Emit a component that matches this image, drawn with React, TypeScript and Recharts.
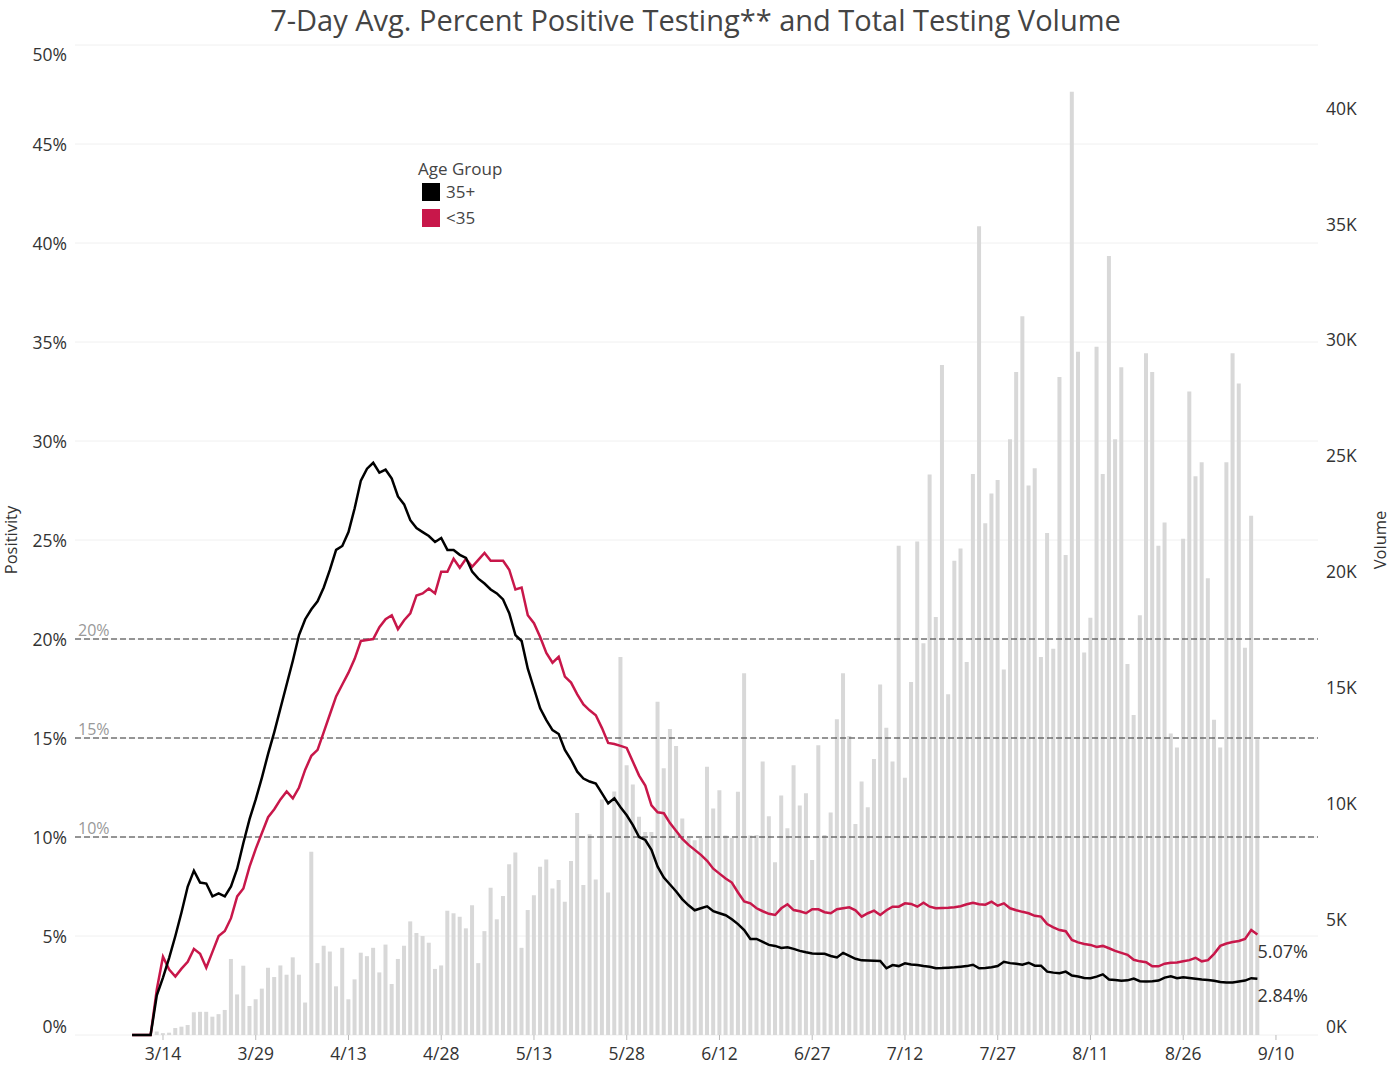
import React from 'react';
import {
  ComposedChart,
  Bar,
  Line,
  XAxis,
  YAxis,
  CartesianGrid,
  ReferenceLine,
  Legend,
  LabelList,
} from 'recharts';

// day 0 = 3/9
const START_MONTH = 3;
const START_DAY = 9;

// daily testing volume, thousands
const volumeK = [
  0, 0, 0, 0, 0.15, 0.08, 0.1, 0.3, 0.36, 0.43,
  0.98, 1.0, 1.0, 0.79, 0.9, 1.08, 3.28, 1.75, 2.99, 1.25,
  1.54, 2.0, 2.9, 2.5, 3.0, 2.6, 3.35, 2.6, 1.4, 7.9,
  3.1, 3.85, 3.6, 2.1, 3.76, 1.54, 2.4, 3.55, 3.4, 3.76,
  2.7, 3.9, 2.2, 3.28, 3.85, 4.9, 4.4, 4.27, 3.98, 2.85,
  3.0, 5.36, 5.25, 5.1, 4.6, 5.6, 3.1, 4.48, 6.35, 4.99,
  6.0, 7.36, 7.87, 3.76, 5.39, 6.03, 7.26, 7.57, 6.32, 6.68,
  5.75, 7.51, 9.58, 6.47, 8.66, 6.71, 10.16, 6.15, 10.5, 16.3,
  11.64, 10.8, 9.41, 8.76, 8.76, 14.37, 11.5, 13.2, 12.46, 9.34,
  8.5, 8.4, 8.5, 11.57, 9.77, 10.56, 8.6, 8.5, 10.49, 15.6,
  8.6, 8.63, 11.8, 9.44, 7.45, 10.33, 8.92, 11.64, 9.9, 10.43,
  7.55, 12.5, 8.63, 9.6, 13.62, 15.6, 12.9, 9.1, 10.93, 9.82,
  11.9, 15.12, 13.25, 11.8, 21.1, 11.1, 15.23, 21.28, 16.9, 24.17,
  18.03, 28.9, 14.7, 20.45, 20.98, 16.09, 24.2, 34.88, 22.07, 23.36,
  23.94, 15.76, 25.7, 28.6, 31.0, 23.7, 24.45, 16.3, 21.65, 16.66,
  28.38, 20.7, 40.68, 29.47, 16.5, 18.0, 29.68, 24.2, 33.6, 25.7,
  28.8, 16.0, 13.8, 18.1, 29.4, 28.6, 21.1, 22.1, 13.0, 12.4,
  21.4, 27.75, 24.1, 24.7, 19.7, 13.6, 12.4, 24.7, 29.4, 28.1,
  16.7, 22.4, 12.76,
];

// 7-day avg percent positive, age 35+
const pctOlder = [
  0, 0, 0, 0, 2.0, 2.9, 3.9, 5.0, 6.2, 7.5,
  8.3, 7.7, 7.65, 7.0, 7.15, 7.0, 7.5, 8.4, 9.7, 10.9,
  11.9, 13.0, 14.2, 15.3, 16.5, 17.7, 18.9, 20.2, 21.0, 21.5,
  21.9, 22.6, 23.5, 24.5, 24.7, 25.4, 26.6, 28.0, 28.6, 28.9,
  28.4, 28.55, 28.1, 27.2, 26.8, 26.0, 25.6, 25.4, 25.2, 24.9,
  25.1, 24.5, 24.5, 24.25, 24.1, 23.4, 23.05, 22.8, 22.5, 22.3,
  22.0, 21.3, 20.2, 19.9, 18.5, 17.5, 16.5, 15.9, 15.4, 15.2,
  14.4, 13.9, 13.3, 12.95, 12.8, 12.7, 12.2, 11.7, 11.95, 11.5,
  11.1, 10.6, 10.0, 9.85, 9.35, 8.5, 7.95, 7.6, 7.25, 6.85,
  6.55, 6.3, 6.4, 6.5, 6.25, 6.15, 6.05, 5.85, 5.6, 5.3,
  4.85, 4.85, 4.7, 4.55, 4.5, 4.4, 4.43, 4.35, 4.25, 4.18,
  4.12, 4.1, 4.1, 3.99, 3.92, 4.15, 4.0, 3.85, 3.77, 3.76,
  3.75, 3.74, 3.37, 3.53, 3.48, 3.62, 3.56, 3.53, 3.48, 3.45,
  3.37, 3.38, 3.4, 3.42, 3.45, 3.48, 3.55, 3.37, 3.38, 3.42,
  3.48, 3.7, 3.63, 3.6, 3.55, 3.65, 3.5, 3.5, 3.2, 3.15,
  3.12, 3.2, 3.0, 2.95, 2.88, 2.87, 2.95, 3.06, 2.8, 2.78,
  2.74, 2.76, 2.85, 2.72, 2.7, 2.72, 2.75, 2.9, 2.96, 2.87,
  2.92, 2.88, 2.84, 2.8, 2.78, 2.74, 2.68, 2.65, 2.65, 2.7,
  2.75, 2.87, 2.84,
];

// 7-day avg percent positive, age <35
const pctYounger = [
  0, 0, 0, 0, 2.3, 3.95, 3.3, 2.95, 3.35, 3.7,
  4.35, 4.1, 3.4, 4.2, 5.0, 5.25, 5.9, 7.0, 7.4, 8.5,
  9.4, 10.2, 11.0, 11.4, 11.9, 12.3, 11.95, 12.5, 13.4, 14.1,
  14.4, 15.3, 16.2, 17.1, 17.7, 18.3, 19.0, 19.9, 19.95, 20.0,
  20.6, 21.0, 21.2, 20.5, 20.95, 21.3, 22.2, 22.3, 22.55, 22.3,
  23.4, 23.4, 24.05, 23.6, 24.05, 23.65, 24.0, 24.35, 23.95, 23.95,
  23.95, 23.5, 22.5, 22.6, 21.2, 20.8, 20.1, 19.3, 18.8, 19.1,
  18.1, 17.8, 17.2, 16.7, 16.4, 16.15, 15.5, 14.75, 14.7, 14.6,
  14.5, 13.8, 13.1, 12.6, 11.6, 11.25, 11.2, 10.7, 10.3, 9.9,
  9.6, 9.35, 9.1, 8.8, 8.4, 8.15, 7.9, 7.7, 7.2, 6.75,
  6.65, 6.4, 6.25, 6.12, 6.06, 6.4, 6.6, 6.31, 6.25, 6.15,
  6.35, 6.35, 6.2, 6.15, 6.35, 6.4, 6.45, 6.3, 5.98, 6.15,
  6.28, 6.06, 6.3, 6.48, 6.48, 6.65, 6.62, 6.48, 6.68, 6.48,
  6.4, 6.42, 6.43, 6.45, 6.5, 6.6, 6.68, 6.6, 6.58, 6.73,
  6.53, 6.65, 6.4, 6.3, 6.22, 6.15, 6.02, 5.98, 5.6, 5.44,
  5.3, 5.24, 4.8, 4.68, 4.6, 4.55, 4.45, 4.5, 4.38, 4.25,
  4.15, 4.05, 3.8, 3.72, 3.68, 3.47, 3.47, 3.6, 3.65, 3.66,
  3.72, 3.78, 3.9, 3.72, 3.78, 4.1, 4.5, 4.62, 4.7, 4.75,
  4.85, 5.3, 5.07,
];

const xTickDays = [5, 20, 35, 50, 65, 80, 95, 110, 125, 140, 155, 170, 185];
const xTickLabels = ['3/14', '3/29', '4/13', '4/28', '5/13', '5/28', '6/12', '6/27', '7/12', '7/27', '8/11', '8/26', '9/10'];
const leftTicks = [0, 5, 10, 15, 20, 25, 30, 35, 40, 45, 50];
const rightTicks = [0, 5, 10, 15, 20, 25, 30, 35, 40];
const thresholds = [10, 15, 20];

const RED = '#c8174a';
const FONT = '"Open Sans", sans-serif';
const TICK_SIZE = 17.5;

const dateLabel = (i: number) => {
  const d = new Date(2020, START_MONTH - 1, START_DAY + i);
  return `${d.getMonth() + 1}/${d.getDate()}`;
};

const data = volumeK.map((v, i) => ({
  day: i,
  date: dateLabel(i),
  volume: v,
  older: pctOlder[i],
  younger: pctYounger[i],
}));

const lastIndex = data.length - 1;

const LeftTick = (props: any) => {
  const { x, y, payload } = props;
  const dy = payload.value === 0 ? -9 : payload.value === 50 ? 9 : 0;
  return (
    <text x={x} y={y + dy} textAnchor="end" dominantBaseline="central" fontSize={TICK_SIZE} fill="#333" fontFamily={FONT}>
      {payload.value}%
    </text>
  );
};

const RightTick = (props: any) => {
  const { x, y, payload } = props;
  const dy = payload.value === 0 ? -9 : 0;
  return (
    <text x={x} y={y + dy} textAnchor="start" dominantBaseline="central" fontSize={TICK_SIZE} fill="#333" fontFamily={FONT}>
      {payload.value}K
    </text>
  );
};

const EndLabel = (props: any) => {
  const { x, y, index, value } = props;
  if (index !== lastIndex) return null;
  return (
    <text x={x} y={y + 16} dominantBaseline="central" fontSize={18} fill="#333" fontFamily={FONT}>
      {Number(value).toFixed(2)}%
    </text>
  );
};

const AgeLegend = () => (
  <div style={{ fontFamily: FONT, fontSize: 17, color: '#444', lineHeight: '26px', textAlign: 'left' }}>
    <div style={{ lineHeight: '20px' }}>Age Group</div>
    {[
      { name: '35+', color: '#000' },
      { name: '<35', color: RED },
    ].map(item => (
      <div key={item.name} style={{ display: 'flex', alignItems: 'center', marginLeft: 4 }}>
        <span style={{ width: 18, height: 18, background: item.color, display: 'inline-block', marginRight: 6 }} />
        {item.name}
      </div>
    ))}
  </div>
);

export default function App() {
  return (
    <div style={{ position: 'relative', width: 1391, height: 1065, background: '#fff', overflow: 'hidden' }}>
      <style>{'body { margin: 0; }'}</style>
      <div
        style={{
          position: 'absolute',
          top: 0,
          left: 0,
          width: 1391,
          textAlign: 'center',
          fontFamily: FONT,
          fontSize: 29,
          color: '#444',
          lineHeight: '40px',
          whiteSpace: 'nowrap',
        }}
      >
        7-Day Avg. Percent Positive Testing** and Total Testing Volume
      </div>
      <div
        style={{
          position: 'absolute',
          left: 10,
          top: 540,
          transform: 'translate(-50%, -50%) rotate(-90deg)',
          fontFamily: FONT,
          fontSize: 16.5,
          color: '#333',
          whiteSpace: 'nowrap',
        }}
      >
        Positivity
      </div>
      <div
        style={{
          position: 'absolute',
          left: 1380,
          top: 540,
          transform: 'translate(-50%, -50%) rotate(-90deg)',
          fontFamily: FONT,
          fontSize: 16.5,
          lineHeight: '18px',
          color: '#333',
          whiteSpace: 'nowrap',
        }}
      >
        Volume
      </div>
      <ComposedChart width={1391} height={1065} data={data} margin={{ top: 45, right: 0, bottom: 0, left: 0 }}>
        <CartesianGrid yAxisId="left" vertical={false} stroke="#f0f0f0" />
        <XAxis
          dataKey="day"
          type="number"
          domain={[-9.23, 191.8]}
          allowDataOverflow
          ticks={xTickDays}
          tickFormatter={(v: number) => xTickLabels[xTickDays.indexOf(v)] ?? ''}
          height={30}
          axisLine={false}
          tickLine={{ stroke: '#bbb' }}
          tickSize={5}
          tickMargin={8}
          tick={{ fontSize: TICK_SIZE, fill: '#333', fontFamily: FONT }}
        />
        <YAxis
          yAxisId="left"
          domain={[0, 50]}
          ticks={leftTicks}
          width={75}
          axisLine={false}
          tickLine={false}
          tick={<LeftTick />}
        />
        <YAxis
          yAxisId="right"
          orientation="right"
          domain={[0, 42.7]}
          ticks={rightTicks}
          width={73}
          axisLine={false}
          tickLine={false}
          tick={<RightTick />}
        />
        <Legend
          verticalAlign="middle"
          align="center"
          layout="horizontal"
          content={<AgeLegend />}
          wrapperStyle={{ left: 418, top: 159, width: 120, height: 80 }}
        />
        <Bar yAxisId="right" dataKey="volume" fill="#d8d8d8" barSize={4} isAnimationActive={false} legendType="none" />
        {thresholds.map(t => (
          <ReferenceLine
            key={t}
            yAxisId="left"
            y={t}
            stroke="#333"
            strokeDasharray="6 3"
            strokeWidth={1.2}
            label={{ value: `${t}%`, position: 'insideBottomLeft', offset: 3, fill: '#999', fontSize: 16, fontFamily: FONT }}
          />
        ))}
        <Line
          yAxisId="left"
          dataKey="younger"
          stroke={RED}
          strokeWidth={2.5}
          dot={false}
          isAnimationActive={false}
          name="<35"
        >
          <LabelList dataKey="younger" content={<EndLabel />} />
        </Line>
        <Line
          yAxisId="left"
          dataKey="older"
          stroke="#000"
          strokeWidth={2.5}
          dot={false}
          isAnimationActive={false}
          name="35+"
        >
          <LabelList dataKey="older" content={<EndLabel />} />
        </Line>
      </ComposedChart>
    </div>
  );
}
